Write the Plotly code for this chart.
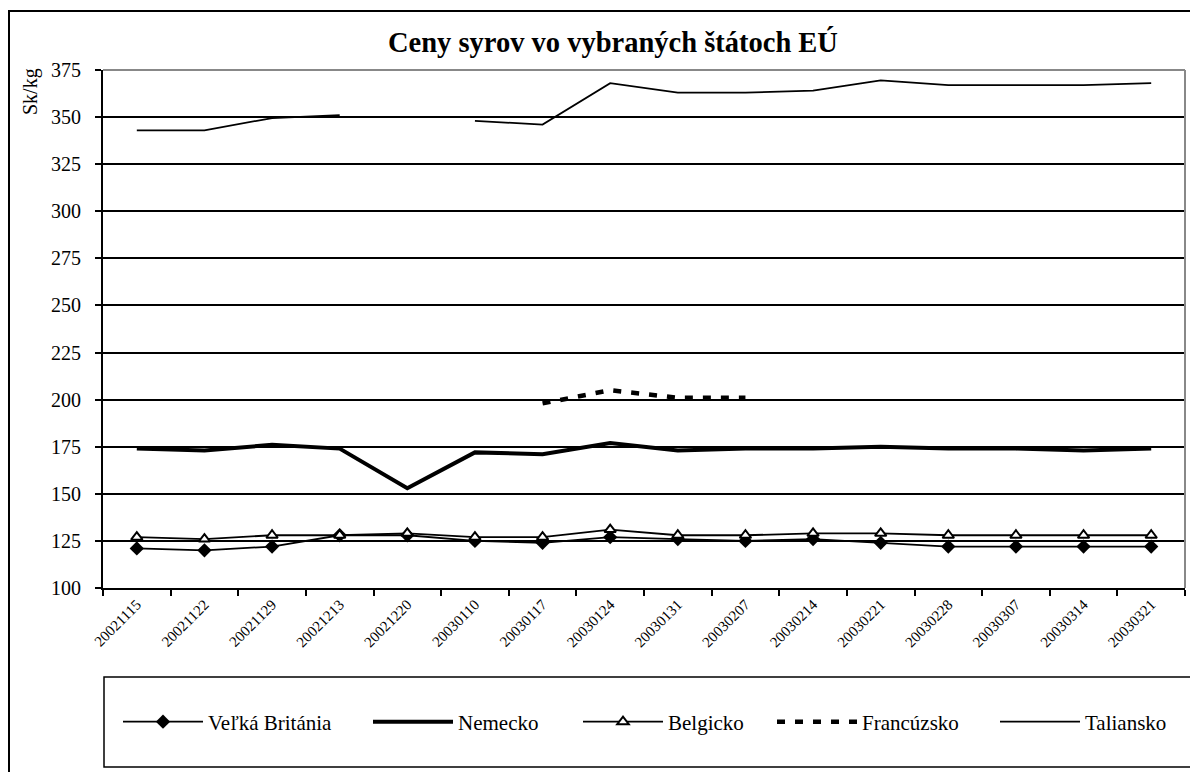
"""Ceny syrov vo vybraných štátoch EÚ - line chart."""

import plotly.graph_objects as go

# Data (Sk/kg), weekly
DATES = ['20021115', '20021122', '20021129', '20021213', '20021220', '20030110',
         '20030117', '20030124', '20030131', '20030207', '20030214', '20030221',
         '20030228', '20030307', '20030314', '20030321']

VELKA_BRITANIA = [121, 120, 122, 128, 128, 125, 124, 127, 126, 125, 126, 124, 122, 122, 122, 122]
NEMECKO = [174, 173, 176, 174, 153, 172, 171, 177, 173, 174, 174, 175, 174, 174, 173, 174]
BELGICKO = [127, 126, 128, 128, 129, 127, 127, 131, 128, 128, 129, 129, 128, 128, 128, 128]
FRANCUZSKO = [None, None, None, None, None, None, 198, 205, 201, 201, None, None, None, None, None, None]
TALIANSKO = [343, 343, 349.5, 351, None, 348, 346, 368, 363, 363, 364, 369.5, 367, 367, 367, 368]

Y_TICKS = [100, 125, 150, 175, 200, 225, 250, 275, 300, 325, 350, 375]

SERIF = "Liberation Serif, Times New Roman, serif"

# plot area in page pixels: x 103..1185, y 70..588 (page has an 8px body margin)
PX_L, PX_R, PX_T, PX_B = 103, 1185, 70, 588


def px_x(px):
    return (px - PX_L) / (PX_R - PX_L)


def px_y(py):
    return (PX_B - py) / (PX_B - PX_T)


fig = go.Figure()

fig.add_trace(go.Scatter(
    x=DATES, y=VELKA_BRITANIA, name='Veľká Británia', mode='lines+markers', legend='legend',
    line=dict(color='black', width=1.8),
    marker=dict(symbol='diamond', size=11, color='black'),
))
fig.add_trace(go.Scatter(
    x=DATES, y=NEMECKO, name='Nemecko', mode='lines', legend='legend2',
    line=dict(color='black', width=4),
))
fig.add_trace(go.Scatter(
    x=DATES, y=BELGICKO, name='Belgicko', mode='lines+markers', legend='legend3',
    line=dict(color='black', width=1.8),
    marker=dict(symbol='triangle-up', size=10, color='white', line=dict(color='black', width=2)),
))
fig.add_trace(go.Scatter(
    x=DATES, y=FRANCUZSKO, name='Francúzsko', mode='lines', legend='legend4',
    line=dict(color='black', width=4.5, dash='8px,10px'),
    connectgaps=False,
))
fig.add_trace(go.Scatter(
    x=DATES, y=TALIANSKO, name='Taliansko', mode='lines', legend='legend5',
    line=dict(color='black', width=1.8),
    connectgaps=False,
))

shapes = [
    # outer chart frame (right and bottom edges fall outside the picture)
    dict(type='rect', xref='paper', yref='paper', x0=px_x(9), x1=px_x(1260), y0=px_y(820), y1=px_y(11),
         line=dict(color='black', width=2), fillcolor='rgba(0,0,0,0)', layer='below'),
    # legend box
    dict(type='rect', xref='paper', yref='paper', x0=px_x(104), x1=px_x(1194), y0=px_y(767), y1=px_y(677),
         line=dict(color='black', width=1.5), fillcolor='rgba(0,0,0,0)'),
    # grey top and right border of the plot area
    dict(type='line', xref='paper', yref='paper', x0=0, x1=1, y0=1, y1=1,
         line=dict(color='#888888', width=2)),
    dict(type='line', xref='paper', yref='paper', x0=1, x1=1, y0=0, y1=1,
         line=dict(color='#888888', width=2)),
]

annotations = [
    dict(text='<b>Ceny syrov vo vybraných štátoch EÚ</b>', xref='paper', yref='paper',
         x=px_x(613), y=px_y(42), xanchor='center', yanchor='middle', showarrow=False,
         font=dict(family=SERIF, size=28.5, color='black')),
    dict(text='Sk/kg', xref='paper', yref='paper', x=px_x(30), y=px_y(92), textangle=-90,
         xanchor='center', yanchor='middle', showarrow=False,
         font=dict(family=SERIF, size=20, color='black')),
]

# one legend per series so each entry sits where it does in the original
legend_font = dict(family=SERIF, size=21, color='black')
legend_starts = [118, 368, 578, 772, 995]
legends = {}
for i, start in enumerate(legend_starts):
    key = 'legend' if i == 0 else f'legend{i + 1}'
    legends[key] = dict(
        x=px_x(start), y=px_y(722), xanchor='left', yanchor='middle', orientation='h',
        itemwidth=80, bgcolor='rgba(0,0,0,0)', font=legend_font,
    )

fig.update_layout(
    width=1190,
    height=764,
    margin=dict(l=PX_L - 8, r=1190 - (PX_R - 8), t=PX_T - 8, b=764 - (PX_B - 8)),
    plot_bgcolor='white',
    paper_bgcolor='white',
    font=dict(family=SERIF, size=18, color='black'),
    showlegend=True,
    xaxis=dict(
        type='category', range=[-0.5, len(DATES) - 0.5], tickangle=-45, tickson='boundaries',
        ticks='outside', ticklen=6, tickcolor='black', tickwidth=1.5, showline=True,
        linecolor='black', linewidth=2, showgrid=False, tickfont=dict(family=SERIF, size=15),
        fixedrange=True,
    ),
    yaxis=dict(
        range=[100, 375], tickvals=Y_TICKS, ticks='outside', ticklen=6, tickcolor='black',
        tickwidth=1.5, showline=True, linecolor='black', linewidth=2, showgrid=True,
        gridcolor='black', gridwidth=2, zeroline=False, ticklabelstandoff=10,
        tickfont=dict(family=SERIF, size=20), fixedrange=True,
    ),
    shapes=shapes,
    annotations=annotations,
    **legends,
)

fig.write_html("out.html")
